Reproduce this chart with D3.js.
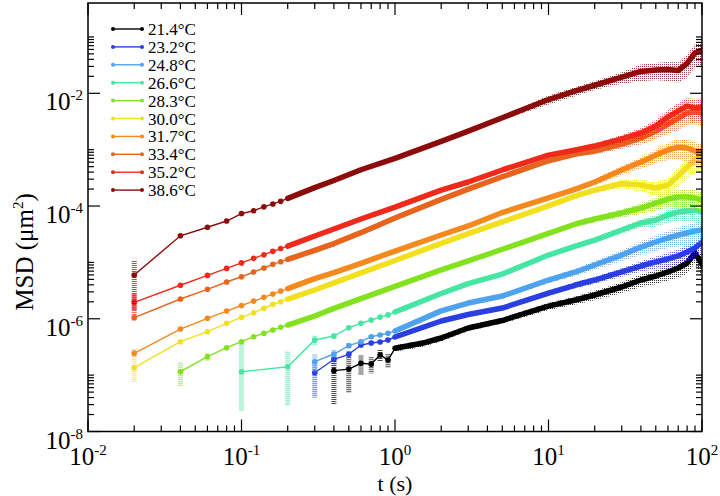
<!DOCTYPE html>
<html>
<head>
<meta charset="utf-8">
<script src="https://cdn.jsdelivr.net/npm/d3@7/dist/d3.min.js"></script>
<style>
body { margin: 0; background: #fff; }
</style>
</head>
<body>
<script>
// legend labels and colours, in drawing order
const labels = ["21.4°C", "23.2°C", "24.8°C", "26.6°C", "28.3°C", "30.0°C", "31.7°C", "33.4°C", "35.2°C", "38.6°C"];
const colors = ["#000000", "#2a3ee2", "#4fa2ef", "#45e5a4", "#82e21e", "#f2e01c", "#f5891e", "#e8641c", "#f02a1a", "#8c0b0b"];

// lag times (s), MSD (um^2) and error
const t214 = [0.4,0.5,0.6,0.7,0.8,0.9,1,1.5,2,3,5,10,15,20,30,40,50,60,70,80,90,100];
const msd214 = [1.20e-7,1.28e-7,1.62e-7,1.57e-7,2.28e-7,1.85e-7,2.99e-7,3.67e-7,4.56e-7,6.86e-7,9.31e-7,1.68e-6,2.15e-6,2.64e-6,3.66e-6,4.87e-6,5.74e-6,6.76e-6,7.95e-6,9.75e-6,1.47e-5,9.35e-6];
const err214 = [9e-8,8e-8,6e-8,5e-8,5e-8,5e-8,4e-8,5e-8,6e-8,8e-8,1.1e-7,2.5e-7,3.5e-7,5e-7,8e-7,1.2e-6,1.6e-6,2e-6,2.6e-6,3.4e-6,5e-6,4e-6];

const t232 = [0.3,0.4,0.5,0.6,0.7,0.8,0.9,1,2,3,5,10,15,20,30,40,50,60,70,80,90,100];
const msd232 = [1.10e-7,1.91e-7,2.34e-7,3.42e-7,3.72e-7,3.87e-7,4.20e-7,4.75e-7,9.12e-7,1.19e-6,1.55e-6,2.86e-6,3.97e-6,4.87e-6,6.76e-6,8.63e-6,1.02e-5,1.15e-5,1.30e-5,1.53e-5,1.80e-5,2.30e-5];
const err232 = [7e-8,4e-8,3e-8,3e-8,3e-8,3e-8,3e-8,3e-8,6e-8,8e-8,1.2e-7,3e-7,5e-7,7e-7,1.2e-6,1.8e-6,2.5e-6,3.3e-6,4e-6,5e-6,6e-6,7e-6];

const t248 = [0.3,0.4,0.5,0.6,0.7,0.8,0.9,1,2,3,5,10,15,20,30,40,50,60,70,80,90,100];
const msd248 = [1.73e-7,2.37e-7,3.33e-7,3.92e-7,4.81e-7,5.15e-7,5.52e-7,6.07e-7,1.38e-6,1.90e-6,2.53e-6,4.87e-6,6.76e-6,9.0e-6,1.35e-5,1.87e-5,2.30e-5,2.71e-5,3.06e-5,3.32e-5,3.61e-5,3.76e-5];
const err248 = [6e-8,4e-8,4e-8,3e-8,3e-8,3e-8,3e-8,3e-8,8e-8,1.2e-7,2e-7,6e-7,1e-6,1.6e-6,3e-6,5e-6,7e-6,9e-6,1.1e-5,1.3e-5,1.5e-5,1.6e-5];

const t266 = [0.1,0.2,0.3,0.4,0.5,0.6,0.7,0.8,0.9,1,2,3,5,10,15,20,30,40,50,60,70,80,90,100];
const msd266 = [1.15e-7,1.41e-7,4.20e-7,4.94e-7,6.94e-7,8.3e-7,9.51e-7,1.07e-6,1.17e-6,1.32e-6,2.81e-6,4.19e-6,6.22e-6,1.35e-5,1.95e-5,2.49e-5,3.76e-5,5.0e-5,5.65e-5,6.93e-5,7.83e-5,8.15e-5,8.49e-5,7.83e-5];
const err266 = [2.8e-7,1.2e-7,8e-8,5e-8,4e-8,4e-8,4e-8,4e-8,4e-8,5e-8,1.2e-7,2e-7,3.5e-7,1.1e-6,1.9e-6,2.8e-6,5.5e-6,9e-6,1.3e-5,1.9e-5,2.4e-5,2.8e-5,3.3e-5,3.4e-5];

const t283 = [0.04,0.06,0.08,0.1,0.12,0.14,0.16,0.18,0.2,0.3,0.4,0.6,1,2,3,5,10,15,20,30,40,50,60,70,80,90,100];
const msd283 = [1.15e-7,2.12e-7,3.07e-7,3.92e-7,4.81e-7,5.52e-7,6.32e-7,7.05e-7,7.74e-7,1.12e-6,1.53e-6,2.27e-6,3.75e-6,7.39e-6,1.06e-5,1.71e-5,3.26e-5,4.80e-5,5.89e-5,7.52e-5,9.22e-5,1.13e-4,1.33e-4,1.45e-4,1.45e-4,1.39e-4,1.28e-4];
const err283 = [5e-8,3e-8,2e-8,2e-8,2e-8,2e-8,3e-8,3e-8,3e-8,5e-8,7e-8,1e-7,1.7e-7,4e-7,6e-7,1e-6,2.8e-6,5e-6,7.5e-6,1.3e-5,2e-5,3e-5,4e-5,5e-5,5.5e-5,5.5e-5,5e-5];

const t300 = [0.02,0.04,0.06,0.08,0.1,0.12,0.14,0.16,0.18,0.2,0.3,0.4,0.6,1,2,3,5,10,15,20,30,40,50,60,70,80,90,100];
const msd300 = [1.355e-7,3.92e-7,5.89e-7,8.30e-7,1.06e-6,1.28e-6,1.53e-6,1.81e-6,2.01e-6,2.24e-6,3.24e-6,4.33e-6,6.51e-6,1.08e-5,2.18e-5,3.23e-5,5.25e-5,1.01e-4,1.51e-4,1.92e-4,2.51e-4,2.36e-4,2.09e-4,2.36e-4,3.41e-4,4.92e-4,6.55e-4,7.41e-4];
const err300 = [6e-8,2e-8,2e-8,3e-8,3e-8,4e-8,5e-8,6e-8,6e-8,7e-8,1.3e-7,1.8e-7,2.7e-7,4.5e-7,1e-6,1.5e-6,2.5e-6,9e-6,1.5e-5,2.5e-5,4.5e-5,5.5e-5,6e-5,7.5e-5,1.2e-4,1.8e-4,2.6e-4,3.0e-4];

const t317 = [0.02,0.04,0.06,0.08,0.1,0.12,0.14,0.16,0.18,0.2,0.3,0.4,0.6,1,2,3,5,10,15,20,30,40,50,60,70,80,90,100];
const msd317 = [2.44e-7,6.58e-7,1.02e-6,1.37e-6,1.72e-6,2.06e-6,2.40e-6,2.75e-6,3.10e-6,3.43e-6,5.16e-6,6.59e-6,9.64e-6,1.59e-5,3.06e-5,4.43e-5,7.67e-5,1.39e-4,2.0e-4,2.67e-4,4.36e-4,6.04e-4,8.0e-4,9.87e-4,1.11e-3,1.07e-3,9.46e-4,8.73e-4];
const err317 = [4e-8,3e-8,3e-8,4e-8,5e-8,6e-8,7e-8,8e-8,9e-8,1e-7,2e-7,3e-7,4e-7,7e-7,1.3e-6,2e-6,3.5e-6,1.2e-5,2e-5,3.5e-5,8e-5,1.4e-4,2.2e-4,3.3e-4,4.3e-4,4.7e-4,4.2e-4,4.0e-4];

const t334 = [0.02,0.04,0.06,0.08,0.1,0.12,0.14,0.16,0.18,0.2,0.3,0.4,0.6,1,2,3,5,10,15,20,30,40,50,60,70,80,90,100];
const msd334 = [1.045e-6,2.24e-6,3.33e-6,4.49e-6,5.57e-6,6.76e-6,7.95e-6,9.25e-6,1.03e-5,1.13e-5,1.64e-5,2.16e-5,3.37e-5,6.12e-5,1.31e-4,2.0e-4,3.31e-4,6.37e-4,8.38e-4,9.46e-4,1.26e-3,1.61e-3,2.14e-3,2.85e-3,3.64e-3,4.48e-3,4.66e-3,4.48e-3];
const err334 = [1e-7,1e-7,1e-7,1e-7,2e-7,2e-7,2e-7,3e-7,3e-7,3e-7,8e-7,1e-6,1.7e-6,3e-6,7e-6,1e-5,1.7e-5,5.4e-5,8.4e-5,1.2e-4,2.3e-4,3.7e-4,6e-4,9.4e-4,1.4e-3,1.7e-3,1.8e-3,1.8e-3];

const t352 = [0.02,0.04,0.06,0.08,0.1,0.12,0.14,0.16,0.18,0.2,0.3,0.4,0.6,1,2,3,5,10,15,20,30,40,50,60,70,80,90,100];
const msd352 = [1.96e-6,3.93e-6,5.88e-6,7.82e-6,9.8e-6,1.18e-5,1.37e-5,1.57e-5,1.76e-5,1.95e-5,2.94e-5,3.91e-5,5.89e-5,9.6e-5,1.92e-4,2.67e-4,4.36e-4,8.0e-4,9.87e-4,1.16e-3,1.55e-3,1.98e-3,2.63e-3,3.79e-3,4.85e-3,5.94e-3,5.47e-3,5.70e-3];
const err352 = [8e-7,3e-7,2e-7,2e-7,2e-7,3e-7,3e-7,3e-7,4e-7,4e-7,1.5e-6,2e-6,3e-6,5e-6,1e-5,1.3e-5,2.2e-5,6.8e-5,1e-4,1.5e-4,2.8e-4,4.5e-4,7.4e-4,1.25e-3,1.9e-3,2.3e-3,2.4e-3,2.5e-3];

const t386 = [0.02,0.04,0.06,0.08,0.1,0.12,0.14,0.16,0.18,0.2,0.3,0.4,0.6,1,2,3,5,10,15,20,30,40,50,60,70,80,90,100];
const msd386 = [5.97e-6,2.97e-5,4.2e-5,5.42e-5,7.36e-5,8.26e-5,9.68e-5,1.09e-4,1.21e-4,1.37e-4,2.12e-4,2.84e-4,4.4e-4,7.03e-4,1.40e-3,2.13e-3,3.69e-3,7.76e-3,1.10e-2,1.39e-2,1.93e-2,2.44e-2,2.59e-2,2.64e-2,2.54e-2,3.40e-2,5.19e-2,5.86e-2];
const err386 = [4.6e-6,2e-6,1.3e-6,1.6e-6,2.2e-6,2.5e-6,2.9e-6,3.3e-6,3.6e-6,4e-6,9e-6,1.2e-5,1.8e-5,3e-5,1.2e-4,1.8e-4,3.1e-4,1.4e-3,2.0e-3,2.5e-3,4.4e-3,8.1e-3,8.6e-3,1.0e-2,9.8e-3,1.5e-2,2.3e-2,2.9e-2];

const times = [t214, t232, t248, t266, t283, t300, t317, t334, t352, t386];
const msds = [msd214, msd232, msd248, msd266, msd283, msd300, msd317, msd334, msd352, msd386];
const errs = [err214, err232, err248, err266, err283, err300, err317, err334, err352, err386];

const xTickExps = [-2, -1, 0, 1, 2];
const yTickExps = [-8, -6, -4, -2];

const W = 720, H = 496;
const serif = "'Liberation Serif', 'Times New Roman', Times, 'DejaVu Serif', serif";
const x = d3.scaleLog().domain([0.01, 100]).range([88, 702]);
const y = d3.scaleLog().domain([1e-8, 0.4]).range([431.5, 3]);

const svg = d3.select("body").append("svg")
    .attr("width", W)
    .attr("height", H)
    .attr("font-family", serif);

const defs = svg.append("defs");
const plot = svg.append("g");

const series = labels.map((label, i) => {
    const pts = times[i].map((t, j) => ({t: t, v: msds[i][j], e: errs[i][j]}));
    // markers merge into a solid band once they are closer than their size
    const dt = times[i][1] - times[i][0];
    const cut = 10 * dt - 1e-9;
    return {label: label, color: colors[i], pts: pts, cut: cut};
});

// dotted fills for the error bands
series.forEach((s, i) => {
    const p = defs.append("pattern")
        .attr("id", "dots" + i)
        .attr("width", 2)
        .attr("height", 2)
        .attr("patternUnits", "userSpaceOnUse");
    p.append("rect").attr("width", 1).attr("height", 1).attr("fill", s.color);
});

const lower = d => y(Math.max(d.v - d.e, d.v * 0.2));
const upper = d => y(d.v + d.e);

const band = d3.area()
    .x(d => x(d.t))
    .y0(lower)
    .y1(upper);

const line = d3.line()
    .x(d => x(d.t))
    .y(d => y(d.v));

const clip = defs.append("clipPath").attr("id", "plotclip");
clip.append("rect").attr("x", 88).attr("y", 3).attr("width", 614).attr("height", 428.5);
plot.attr("clip-path", "url(#plotclip)");

series.forEach((s, i) => {
    const g = plot.append("g");
    const early = s.pts.filter(d => d.t < s.cut);
    const late = s.pts.filter(d => d.t >= s.cut);
    const joinPts = early.concat(late.slice(0, 1));

    g.append("path")
        .datum(late)
        .attr("d", band)
        .attr("fill", "url(#dots" + i + ")")
        .attr("opacity", 0.8);

    g.selectAll(".ebar")
        .data(early)
        .enter()
        .append("line")
        .attr("x1", d => x(d.t))
        .attr("x2", d => x(d.t))
        .attr("y1", upper)
        .attr("y2", lower)
        .attr("stroke", s.color)
        .attr("stroke-width", 5)
        .attr("stroke-dasharray", "1,1")
        .attr("opacity", 0.7);

    g.append("path")
        .datum(joinPts)
        .attr("d", line)
        .attr("fill", "none")
        .attr("stroke", s.color)
        .attr("stroke-width", 1.4);

    g.append("path")
        .datum(late)
        .attr("d", line)
        .attr("fill", "none")
        .attr("stroke", s.color)
        .attr("stroke-width", 5.5)
        .attr("stroke-linejoin", "round")
        .attr("stroke-linecap", "round");

    g.selectAll(".mark")
        .data(early)
        .enter()
        .append("circle")
        .attr("cx", d => x(d.t))
        .attr("cy", d => y(d.v))
        .attr("r", 2.8)
        .attr("fill", s.color);
});

// frame
svg.append("rect")
    .attr("x", 88)
    .attr("y", 3)
    .attr("width", 614)
    .attr("height", 428.5)
    .attr("fill", "none")
    .attr("stroke", "#000")
    .attr("stroke-width", 1.5);

// ticks, drawn inward on all four sides
const ticks = svg.append("g").attr("stroke", "#000").attr("stroke-width", 1.2);
const majorLen = 12, minorLen = 6;

xTickExps.forEach(k => {
    const px = x(Math.pow(10, k));
    ticks.append("line").attr("x1", px).attr("x2", px).attr("y1", 431.5).attr("y2", 431.5 - majorLen);
    ticks.append("line").attr("x1", px).attr("x2", px).attr("y1", 3).attr("y2", 3 + majorLen);
    if (k < 2) {
        d3.range(2, 10).forEach(m => {
            const mx = x(m * Math.pow(10, k));
            ticks.append("line").attr("x1", mx).attr("x2", mx).attr("y1", 431.5).attr("y2", 431.5 - minorLen);
            ticks.append("line").attr("x1", mx).attr("x2", mx).attr("y1", 3).attr("y2", 3 + minorLen);
        });
    }
});

yTickExps.forEach(k => {
    const py = y(Math.pow(10, k));
    ticks.append("line").attr("x1", 88).attr("x2", 88 + majorLen).attr("y1", py).attr("y2", py);
    ticks.append("line").attr("x1", 702).attr("x2", 702 - majorLen).attr("y1", py).attr("y2", py);
    d3.range(2, 11).forEach(m => {
        const my = y(m * Math.pow(10, k));
        ticks.append("line").attr("x1", 88).attr("x2", 88 + minorLen).attr("y1", my).attr("y2", my);
        ticks.append("line").attr("x1", 702).attr("x2", 702 - minorLen).attr("y1", my).attr("y2", my);
    });
});

// tick labels as 10 with a superscript exponent
function powLabel(sel, k) {
    sel.append("tspan").text("10");
    sel.append("tspan")
        .attr("dy", -10)
        .attr("font-size", 15)
        .text(k);
}

xTickExps.forEach(k => {
    const t = svg.append("text")
        .attr("x", x(Math.pow(10, k)))
        .attr("y", 465)
        .attr("text-anchor", "middle")
        .attr("font-size", 25);
    powLabel(t, k);
});

yTickExps.forEach(k => {
    const t = svg.append("text")
        .attr("x", 83)
        .attr("y", y(Math.pow(10, k)) + 17)
        .attr("text-anchor", "end")
        .attr("font-size", 25);
    powLabel(t, k);
});

// axis titles
svg.append("text")
    .attr("x", 395)
    .attr("y", 491)
    .attr("text-anchor", "middle")
    .attr("font-size", 22)
    .text("t (s)");

const yt = svg.append("text")
    .attr("transform", "translate(33,252) rotate(-90)")
    .attr("text-anchor", "middle")
    .attr("font-size", 25);
yt.append("tspan").text("MSD (\u03bcm");
yt.append("tspan").attr("dy", -10).attr("font-size", 15).text("2");
yt.append("tspan").attr("dy", 10).text(")");

// legend
const legend = svg.append("g");
series.forEach((s, i) => {
    const ly = 29 + i * 17.9;
    legend.append("line")
        .attr("x1", 113).attr("x2", 142)
        .attr("y1", ly).attr("y2", ly)
        .attr("stroke", s.color)
        .attr("stroke-width", 1.4);
    [113, 142].forEach(cx => {
        legend.append("circle").attr("cx", cx).attr("cy", ly).attr("r", 2).attr("fill", s.color);
    });
    legend.append("text")
        .attr("x", 148)
        .attr("y", ly + 6)
        .attr("font-size", 17)
        .text(s.label);
});
</script>
</body>
</html>
